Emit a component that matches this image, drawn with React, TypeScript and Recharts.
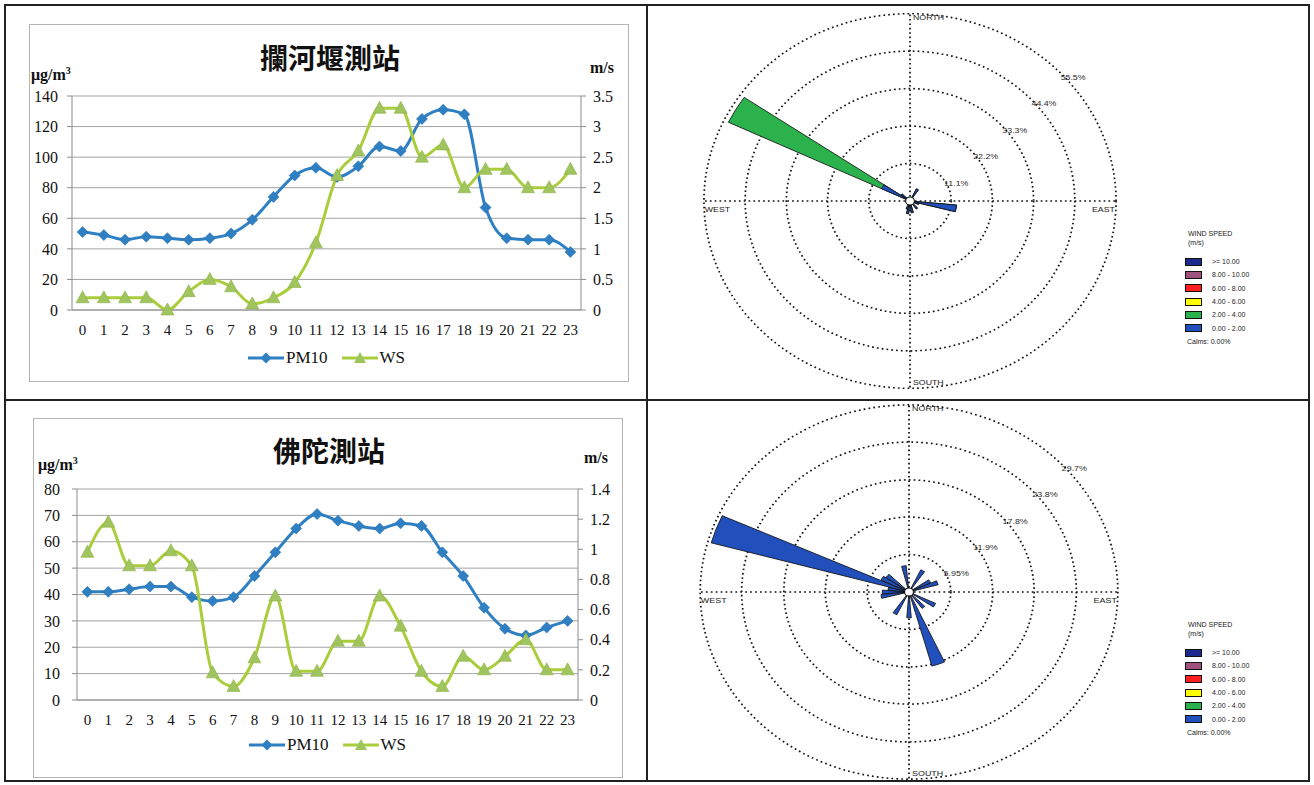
import React from "react";
import {
  LineChart,
  Line,
  XAxis,
  YAxis,
  CartesianGrid,
  Legend,
  RadarChart,
  Radar,
  PolarGrid,
  PolarAngleAxis,
  PolarRadiusAxis,
  Sector,
} from "recharts";

// ---- hourly data ----
const hours = [0, 1, 2, 3, 4, 5, 6, 7, 8, 9, 10, 11, 12, 13, 14, 15, 16, 17, 18, 19, 20, 21, 22, 23];

const lanheyanPM10 = [51, 49, 46, 48, 47, 46, 47, 50, 59, 74, 88, 93, 87, 94, 107, 104, 125, 131, 128, 67, 47, 46, 46, 38];
const lanheyanWS = [0.2, 0.2, 0.2, 0.2, 0, 0.3, 0.5, 0.38, 0.1, 0.2, 0.45, 1.1, 2.2, 2.6, 3.3, 3.3, 2.5, 2.7, 2.0, 2.3, 2.3, 2.0, 2.0, 2.3];

const fotuoPM10 = [41, 41, 42, 43, 43, 39, 37.5, 39, 47, 56, 65, 70.5, 68, 66, 65, 67, 66, 56, 47, 35, 27, 24.5, 27.5, 30];
const fotuoWS = [0.98, 1.18, 0.89, 0.89, 0.99, 0.89, 0.18, 0.09, 0.28, 0.69, 0.19, 0.19, 0.39, 0.39, 0.69, 0.49, 0.19, 0.09, 0.29, 0.2, 0.29, 0.4, 0.2, 0.2];

const lanheyanPmTicks = [0, 20, 40, 60, 80, 100, 120, 140];
const lanheyanWsTicks = [0, 0.5, 1, 1.5, 2, 2.5, 3, 3.5];
const fotuoPmTicks = [0, 10, 20, 30, 40, 50, 60, 70, 80];
const fotuoWsTicks = [0, 0.2, 0.4, 0.6, 0.8, 1, 1.2, 1.4];

// ---- wind rose data (% frequency, 36 directions) ----
const directions = [0, 10, 20, 30, 40, 50, 60, 70, 80, 90, 100, 110, 120, 130, 140, 150, 160, 170, 180, 190, 200, 210, 220, 230, 240, 250, 260, 270, 280, 290, 300, 310, 320, 330, 340, 350];

const lanheyanRose0to2 = [0, 0, 0, 4.0, 0, 0, 0, 0, 0, 0, 12.6, 2.5, 0, 0, 2.9, 0, 0, 3.5, 0, 3.8, 2.5, 0, 0, 0, 0, 0, 0, 0, 0, 0, 8.5, 3.0, 0, 0, 0, 0];
const lanheyanRose2to4 = [0, 0, 0, 0, 0, 0, 0, 0, 0, 0, 0, 0, 0, 0, 0, 0, 0, 0, 0, 0, 0, 0, 0, 0, 0, 0, 0, 0, 0, 0, 45.7, 0, 0, 0, 0, 0];
const fotuoRose0to2 = [0, 0, 0, 3.9, 0, 0, 3.4, 4.3, 0, 0, 0, 0, 4.2, 0, 3.2, 0, 12.2, 0, 4.1, 0, 0, 4.0, 0, 0, 0, 0, 4.0, 3.8, 3.0, 29.2, 4.4, 4.0, 0, 0, 0, 4.2];

const lanheyanRings = [11.1, 22.2, 33.3, 44.4, 55.5];
const fotuoRings = [5.95, 11.9, 17.8, 23.8, 29.7];

const speedBins = [">= 10.00", "8.00 - 10.00", "6.00 - 8.00", "4.00 - 6.00", "2.00 - 4.00", "0.00 - 2.00"];
const speedColors = ["#1b2a8c", "#a0527e", "#ff1f1f", "#ffff00", "#2bb24c", "#2150bd"];

const serif = '"Liberation Serif", "Times New Roman", serif';
const sans = '"Liberation Sans", Arial, sans-serif';
const cjk = '"Noto Sans CJK TC", "Noto Sans CJK SC", sans-serif';

const PM_BLUE = "#2f80c3";
const WS_LINE = "#a9cd3b";
const WS_MARK = "#a0c45e";
const AXIS_GRAY = "#8c8c8c";

const renderDiamond = (props: any) => {
  const { cx, cy, index } = props;
  if (cx == null || cy == null) return <g key={`pd-${index}`} />;
  return (
    <polygon
      key={`pd-${index}`}
      points={`${cx},${cy - 5.5} ${cx + 5.5},${cy} ${cx},${cy + 5.5} ${cx - 5.5},${cy}`}
      fill={PM_BLUE}
      stroke="#2a6fae"
      strokeWidth={0.6}
    />
  );
};

const renderTriangle = (props: any) => {
  const { cx, cy, index } = props;
  if (cx == null || cy == null) return <g key={`wt-${index}`} />;
  return (
    <polygon
      key={`wt-${index}`}
      points={`${cx},${cy - 7} ${cx + 6.5},${cy + 5} ${cx - 6.5},${cy + 5}`}
      fill={WS_MARK}
      stroke="#8fb24a"
      strokeWidth={0.6}
    />
  );
};

const legendContent = () => (
  <div
    style={{
      display: "flex",
      justifyContent: "center",
      alignItems: "center",
      height: 24,
      fontFamily: serif,
      fontSize: 17,
      color: "#111",
    }}
  >
    <svg width={36} height={14}>
      <line x1={0} y1={7} x2={36} y2={7} stroke={PM_BLUE} strokeWidth={3} />
      <polygon points="18,1.5 23.5,7 18,12.5 12.5,7" fill={PM_BLUE} />
    </svg>
    <span style={{ marginLeft: 2, marginRight: 14 }}>PM10</span>
    <svg width={36} height={14}>
      <line x1={0} y1={7} x2={36} y2={7} stroke={WS_LINE} strokeWidth={3} />
      <polygon points="18,1 24,12 12,12" fill={WS_MARK} />
    </svg>
    <span style={{ marginLeft: 2 }}>WS</span>
  </div>
);

interface StationProps {
  title: string;
  pm: number[];
  ws: number[];
  pmTicks: number[];
  wsTicks: number[];
  box: { left: number; top: number; width: number; height: number };
  margin: { top: number; right: number; bottom: number; left: number };
  xHeight: number;
  pad: number;
  leftTickMargin: number;
  titleTop: number;
  unitTop: number;
  unitLeft: number;
}

function StationChart(p: StationProps) {
  const data = hours.map((h, i) => ({ hour: h, pm: p.pm[i], ws: p.ws[i] }));
  const pmMax = p.pmTicks[p.pmTicks.length - 1];
  const wsMax = p.wsTicks[p.wsTicks.length - 1];
  return (
    <div
      style={{
        position: "absolute",
        left: p.box.left,
        top: p.box.top,
        width: p.box.width,
        height: p.box.height,
        border: "1px solid #b4b4b4",
        boxSizing: "border-box",
      }}
    >
      <div
        style={{
          position: "absolute",
          left: 0,
          width: p.box.width,
          top: p.titleTop,
          textAlign: "center",
          fontFamily: cjk,
          fontSize: 28,
          fontWeight: 700,
          color: "#111",
          lineHeight: "32px",
        }}
      >
        {p.title}
      </div>
      <div
        style={{
          position: "absolute",
          left: p.unitLeft,
          top: p.unitTop,
          fontFamily: serif,
          fontSize: 16,
          fontWeight: 700,
          color: "#111",
          lineHeight: "18px",
        }}
      >
        μg/m<sup style={{ fontSize: 10 }}>3</sup>
      </div>
      <div
        style={{
          position: "absolute",
          right: 14,
          top: p.unitTop - 3,
          fontFamily: serif,
          fontSize: 16,
          fontWeight: 700,
          color: "#111",
          lineHeight: "18px",
        }}
      >
        m/s
      </div>
      <div style={{ position: "absolute", left: -1, top: -1 }}>
        <LineChart width={p.box.width} height={p.box.height} data={data} margin={p.margin}>
          <CartesianGrid yAxisId="pm" vertical={false} stroke="#a3a3a3" />
          <XAxis
            dataKey="hour"
            interval={0}
            padding={{ left: p.pad, right: p.pad }}
            tickLine={false}
            tickSize={0}
            tickMargin={14}
            height={p.xHeight}
            axisLine={{ stroke: AXIS_GRAY }}
            tick={{ fontSize: 15, fill: "#111", fontFamily: serif }}
          />
          <YAxis
            yAxisId="pm"
            domain={[0, pmMax]}
            ticks={p.pmTicks}
            width={40}
            tickSize={5}
            tickMargin={p.leftTickMargin}
            axisLine={{ stroke: AXIS_GRAY }}
            tickLine={{ stroke: AXIS_GRAY }}
            tick={{ fontSize: 16, fill: "#111", fontFamily: serif }}
          />
          <YAxis
            yAxisId="ws"
            orientation="right"
            domain={[0, wsMax]}
            ticks={p.wsTicks}
            width={40}
            tickSize={5}
            tickMargin={7}
            axisLine={{ stroke: AXIS_GRAY }}
            tickLine={{ stroke: AXIS_GRAY }}
            tick={{ fontSize: 16, fill: "#111", fontFamily: serif }}
          />
          <Legend verticalAlign="bottom" height={24} content={legendContent} />
          <Line
            yAxisId="pm"
            dataKey="pm"
            name="PM10"
            type="monotone"
            stroke={PM_BLUE}
            strokeWidth={3}
            dot={renderDiamond}
            isAnimationActive={false}
          />
          <Line
            yAxisId="ws"
            dataKey="ws"
            name="WS"
            type="monotone"
            stroke={WS_LINE}
            strokeWidth={3}
            dot={renderTriangle}
            isAnimationActive={false}
          />
        </LineChart>
      </div>
    </div>
  );
}

// ---- wind rose ----
const petals = (fill: string, calm: boolean) => (props: any) => {
  const pts = props.points || [];
  const c = pts[0];
  return (
    <g>
      {pts.map((pt: any, i: number) =>
        pt.value > 0 ? (
          <Sector
            key={i}
            cx={pt.cx}
            cy={pt.cy}
            innerRadius={0}
            outerRadius={pt.radius}
            startAngle={pt.angle - 4.5}
            endAngle={pt.angle + 4.5}
            fill={fill}
            stroke="#111"
            strokeWidth={0.8}
          />
        ) : null
      )}
      {calm && c ? <circle cx={c.cx} cy={c.cy} r={4} fill="#fff" stroke="#111" strokeWidth={1} /> : null}
    </g>
  );
};

const compassTick = (props: any) => {
  const { x, y, payload } = props;
  const v = payload && payload.value;
  const style = { fontSize: 8, fill: "#222", fontFamily: sans };
  if (v === 0)
    return (
      <text x={x + 2.7} y={y + 16} textAnchor="start" {...style}>
        NORTH
      </text>
    );
  if (v === 180)
    return (
      <text x={x + 2.7} y={y - 13} textAnchor="start" {...style}>
        SOUTH
      </text>
    );
  if (v === 90)
    return (
      <text x={x - 10.7} y={y + 11} textAnchor="end" {...style}>
        EAST
      </text>
    );
  if (v === 270)
    return (
      <text x={x + 10.5} y={y + 11} textAnchor="start" {...style}>
        WEST
      </text>
    );
  return <g />;
};

const ringTick = (props: any) => {
  const { x, y, payload } = props;
  if (!payload || !payload.value) return <g />;
  return (
    <text x={x + 4.5} y={y + 11} textAnchor="start" fontSize={8} fill="#2a2a2a" fontFamily={sans}>
      {payload.value}%
    </text>
  );
};

interface RoseProps {
  low: number[];
  high?: number[];
  rings: number[];
  cxPage: number;
  cyPage: number;
  stretch: number;
}

function WindRose({ low, high, rings, cxPage, cyPage, stretch }: RoseProps) {
  const data = directions.map((d, i) => ({
    dir: d,
    low: low[i],
    total: low[i] + (high ? high[i] : 0),
  }));
  return (
    <div
      style={{
        position: "absolute",
        left: cxPage - 210,
        top: cyPage - 200,
        width: 420,
        height: 400,
        transform: `scaleX(${stretch})`,
        transformOrigin: "210px 200px",
      }}
    >
      <RadarChart
        width={420}
        height={400}
        cx={210}
        cy={200}
        outerRadius={189}
        data={data}
        margin={{ top: 0, right: 0, bottom: 0, left: 0 }}
      >
        <PolarGrid
          gridType="circle"
          polarAngles={[90, 0, -90, 180]}
          stroke="#151515"
          strokeDasharray="1.6 2.8"
          strokeWidth={1.6}
        />
        <PolarAngleAxis dataKey="dir" tick={compassTick} axisLine={false} tickLine={false} />
        <PolarRadiusAxis
          angle={45}
          type="number"
          domain={[0, rings[rings.length - 1]]}
          ticks={rings}
          axisLine={false}
          tick={ringTick}
        />
        {high ? (
          <Radar dataKey="total" shape={petals(speedColors[4], false)} isAnimationActive={false} />
        ) : null}
        <Radar dataKey="low" shape={petals(speedColors[5], true)} isAnimationActive={false} />
      </RadarChart>
    </div>
  );
}

function SpeedLegend({ left, top }: { left: number; top: number }) {
  return (
    <div style={{ position: "absolute", left, top, fontFamily: sans, fontSize: 7, color: "#222" }}>
      <div style={{ lineHeight: "9px", marginLeft: 3 }}>WIND SPEED</div>
      <div style={{ lineHeight: "9px", marginLeft: 3 }}>(m/s)</div>
      <div style={{ height: 8 }} />
      {speedBins.map((b, i) => (
        <div key={b} style={{ display: "flex", alignItems: "center", height: 13.3 }}>
          <div
            style={{
              width: 17,
              height: 8,
              background: speedColors[i],
              border: "1px solid #111",
              boxSizing: "border-box",
            }}
          />
          <span style={{ marginLeft: 10 }}>{b}</span>
        </div>
      ))}
      <div style={{ lineHeight: "9px", marginTop: 2, marginLeft: 2 }}>Calms: 0.00%</div>
    </div>
  );
}

export default function App() {
  return (
    <div
      style={{
        position: "absolute",
        left: 0,
        top: 0,
        width: 1314,
        height: 785,
        background: "#fff",
        overflow: "hidden",
      }}
    >
      {/* table frame */}
      <div
        style={{
          position: "absolute",
          left: 4,
          top: 4,
          width: 1306,
          height: 778,
          border: "2px solid #222",
          boxSizing: "border-box",
        }}
      />
      <div style={{ position: "absolute", left: 646, top: 4, width: 2, height: 778, background: "#222" }} />
      <div style={{ position: "absolute", left: 4, top: 399, width: 1306, height: 2, background: "#222" }} />

      <StationChart
        title="攔河堰測站"
        pm={lanheyanPM10}
        ws={lanheyanWS}
        pmTicks={lanheyanPmTicks}
        wsTicks={lanheyanWsTicks}
        box={{ left: 29, top: 24, width: 600, height: 358 }}
        margin={{ top: 72, right: 8, bottom: 12, left: 3 }}
        xHeight={36}
        pad={10.6}
        leftTickMargin={9}
        titleTop={16}
        unitTop={37}
        unitLeft={1}
      />
      <StationChart
        title="佛陀測站"
        pm={fotuoPM10}
        ws={fotuoWS}
        pmTicks={fotuoPmTicks}
        wsTicks={fotuoWsTicks}
        box={{ left: 33, top: 418, width: 590, height: 360 }}
        margin={{ top: 71, right: 5, bottom: 21, left: 4 }}
        xHeight={33}
        pad={10.4}
        leftTickMargin={12}
        titleTop={15}
        unitTop={33}
        unitLeft={4}
      />

      <WindRose low={lanheyanRose0to2} high={lanheyanRose2to4} rings={lanheyanRings} cxPage={910} cyPage={201} stretch={1.1} />
      <WindRose low={fotuoRose0to2} rings={fotuoRings} cxPage={909} cyPage={592} stretch={1.116} />

      <SpeedLegend left={1185} top={229} />
      <SpeedLegend left={1185} top={620} />
    </div>
  );
}
